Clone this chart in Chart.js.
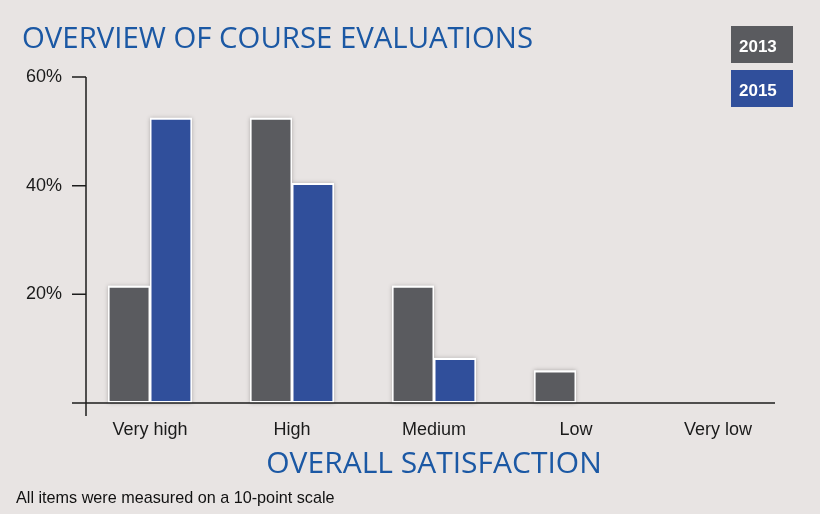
<!DOCTYPE html>
<html><head><meta charset="utf-8">
<script src="https://cdn.jsdelivr.net/npm/chart.js@4/dist/chart.umd.min.js"></script>
<style>html,body{margin:0;padding:0;background:#e8e4e3;overflow:hidden;} canvas{display:block;}</style>
</head><body>
<canvas id="c" width="820" height="514"></canvas>
<script>
const categories = ['Very high', 'High', 'Medium', 'Low', 'Very low'];
const seriesNames = ['2013', '2015'];
const values2013 = [21.6, 52.5, 21.6, 6, 0];
const values2015 = [52.5, 40.5, 8.3, 0, 0];
const yTicks = [20, 40, 60];
const titleText = 'OVERVIEW OF COURSE EVALUATIONS';
const axisTitle = 'OVERALL SATISFACTION';
const footnote = 'All items were measured on a 10-point scale';

const GREY = '#5a5b5f', BLUE = '#304f9b', TEXT_BLUE = '#1b58a4';

const decor = {
  id: 'decor',
  beforeDraw(chart) {
    const ctx = chart.ctx; ctx.save();
    ctx.fillStyle = '#e8e4e3'; ctx.fillRect(0, 0, chart.width, chart.height);
    ctx.restore();
  },
  beforeDatasetsDraw(chart) {
    // soft shadow behind each bar, drawn from the bar elements' own geometry
    const ctx = chart.ctx; ctx.save();
    ctx.shadowColor = 'rgba(0,0,0,0.25)'; ctx.shadowBlur = 4;
    ctx.fillStyle = '#ffffff';
    chart.data.datasets.forEach((ds, i) => {
      chart.getDatasetMeta(i).data.forEach(el => {
        const {x, y, base, width} = el.getProps(['x', 'y', 'base', 'width'], true);
        const h = base - y;
        if (h > 0.5) ctx.fillRect(x - width / 2, y, width, h);
      });
    });
    ctx.restore();
  },
  afterDraw(chart) {
    const {ctx, chartArea: a, scales: {y}} = chart;
    ctx.save();
    ctx.strokeStyle = '#1c1c1c'; ctx.lineWidth = 1.5;
    const ax = a.left + 7;
    const y0 = y.getPixelForValue(0);
    ctx.beginPath();
    ctx.moveTo(ax, y.getPixelForValue(yTicks[yTicks.length - 1])); ctx.lineTo(ax, y0 + 13);
    ctx.moveTo(a.left - 7, y0); ctx.lineTo(a.right - 14, y0);
    yTicks.forEach(v => { const py = y.getPixelForValue(v); ctx.moveTo(a.left - 7, py); ctx.lineTo(ax, py); });
    ctx.stroke();
    ctx.textAlign = 'left'; ctx.textBaseline = 'alphabetic';
    ctx.fillStyle = TEXT_BLUE; ctx.font = '29.5px "Open Sans"';
    ctx.fillText(titleText, 22, 48, 511);
    ctx.fillStyle = '#111'; ctx.font = '16.2px "Liberation Sans"';
    ctx.fillText(footnote, 16, 503);
    chart.data.datasets.forEach((ds, i) => {
      const bx = 731, by = 26 + i * 44;
      ctx.fillStyle = ds.backgroundColor; ctx.fillRect(bx, by, 62, 37);
      ctx.fillStyle = '#fff'; ctx.font = 'bold 17px "Liberation Sans"';
      ctx.fillText(ds.label, 739, by + 26);
    });
    ctx.restore();
  }
};

const barStyle = { borderColor: '#ffffff', borderWidth: {top: 2, bottom: 2, left: 1.5, right: 1.5}, borderSkipped: false, categoryPercentage: 0.59, barPercentage: 1.0 };

new Chart(document.getElementById('c'), {
  type: 'bar',
  data: {
    labels: categories,
    datasets: [
      Object.assign({ label: seriesNames[0], data: values2013, backgroundColor: GREY }, barStyle),
      Object.assign({ label: seriesNames[1], data: values2015, backgroundColor: BLUE }, barStyle)
    ]
  },
  options: {
    responsive: false, animation: false,
    layout: { padding: { top: 77, right: 31, left: 0, bottom: 0 } },
    plugins: { legend: { display: false }, tooltip: { enabled: false } },
    scales: {
      x: {
        grid: { display: false, drawTicks: false }, border: { display: false },
        ticks: { color: '#1a1a1a', font: { family: 'Liberation Sans', size: 18 }, padding: 16 },
        title: { display: true, text: axisTitle, color: TEXT_BLUE, font: { family: 'Open Sans', size: 30 }, padding: { top: 0, bottom: 32 } },
        afterFit(s) { s.height = 111; }
      },
      y: {
        min: 0, max: 60,
        grid: { display: false, drawTicks: false }, border: { display: false },
        ticks: { stepSize: 20, padding: 17, color: '#1a1a1a', font: { family: 'Liberation Sans', size: 18 },
          callback: v => yTicks.includes(v) ? v + '%' : '' },
        afterFit(s) { s.width = 79; }
      }
    }
  },
  plugins: [decor]
});
</script>
</body></html>
